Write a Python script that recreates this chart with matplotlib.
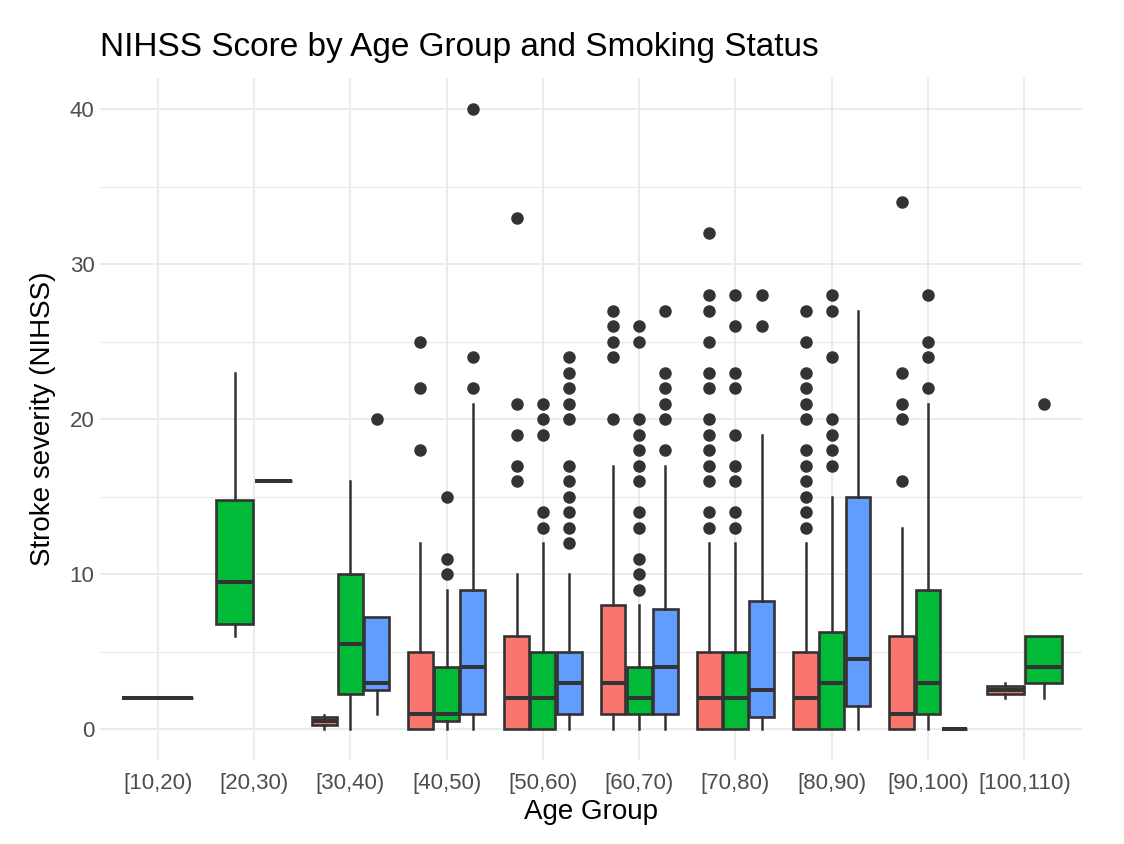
"""NIHSS score by age group and smoking status, grouped boxplots."""

import matplotlib.pyplot as plt

AGE_GROUPS = ["[10,20)", "[20,30)", "[30,40)", "[40,50)", "[50,60)",
              "[60,70)", "[70,80)", "[80,90)", "[90,100)", "[100,110)"]
COLORS = ["#F8766D", "#00BA38", "#619CFF"]

# (whisker low, q1, median, q3, whisker high) per age group, None = no data
RED_STATS = [(2, 2, 2, 2, 2), None, (0, 0.25, 0.5, 0.75, 0.9), (0, 0, 1, 5, 12),
             (0, 0, 2, 6, 10), (0, 1, 3, 8, 17), (0, 0, 2, 5, 12),
             (0, 0, 2, 5, 12), (0, 0, 1, 6, 13), (2, 2.25, 2.5, 2.75, 2.95)]
RED_FLIERS = [[], [], [], [25, 22, 18], [33, 21, 19, 17, 16],
              [27, 26, 25, 24, 20],
              [32, 28, 27, 25, 23, 22, 20, 19, 18, 17, 16, 14, 13],
              [27, 25, 23, 22, 21, 20, 18, 17, 16, 15, 14, 13],
              [34, 23, 21, 20, 16], []]

GREEN_STATS = [None, (6, 6.75, 9.5, 14.75, 23), (0, 2.25, 5.5, 10, 16),
               (0, 0.5, 1, 4, 9), (0, 0, 2, 5, 12), (0, 1, 2, 4, 8),
               (0, 0, 2, 5, 12), (0, 0, 3, 6.25, 15), (0, 1, 3, 9, 21),
               (2, 3, 4, 6, 6)]
GREEN_FLIERS = [[], [], [], [15, 11, 10], [21, 20, 19, 14, 13],
                [26, 25, 20, 19, 18, 17, 16, 14, 13, 11, 10, 9],
                [28, 26, 23, 22, 19, 17, 16, 14, 13],
                [28, 27, 24, 20, 19, 18, 17], [28, 25, 24, 22], [21]]

BLUE_STATS = [None, (16, 16, 16, 16, 16), (1, 2.5, 3, 7.25, 7.25),
              (0, 1, 4, 9, 21), (0, 1, 3, 5, 10), (0, 1, 4, 7.75, 17),
              (0, 0.75, 2.5, 8.25, 19), (0, 1.5, 4.5, 15, 27),
              (0, 0, 0, 0, 0), None]
BLUE_FLIERS = [[], [], [20], [40, 24, 22],
               [24, 23, 22, 21, 20, 17, 16, 15, 14, 13, 12],
               [27, 23, 22, 21, 20, 18], [28, 26], [], [], []]

ALL_STATS = [RED_STATS, GREEN_STATS, BLUE_STATS]
ALL_FLIERS = [RED_FLIERS, GREEN_FLIERS, BLUE_FLIERS]

plt.rcParams["font.family"] = ["Liberation Sans", "DejaVu Sans"]

# dodge spacing / box width depending on how many boxes share a category
SLOT = {1: 0.74, 2: 0.40, 3: 0.272}
BOX_W = {1: 0.74, 2: 0.385, 3: 0.258}
EDGE = "#333333"

fig = plt.figure(figsize=(11.24, 8.44), dpi=100)
ax = fig.add_axes([0.089, 0.0995, 0.8737, 0.808])

for i in range(len(AGE_GROUPS)):
    present = [s for s in range(3) if ALL_STATS[s][i] is not None]
    n = len(present)
    for k, s in enumerate(present):
        lo, q1, med, q3, hi = ALL_STATS[s][i]
        pos = i + 1 + (k - (n - 1) / 2) * SLOT[n]
        stats = [dict(whislo=lo, q1=q1, med=med, q3=q3, whishi=hi,
                      fliers=ALL_FLIERS[s][i])]
        ax.bxp(
            stats,
            positions=[pos],
            widths=[BOX_W[n]],
            patch_artist=True,
            showcaps=False,
            boxprops=dict(facecolor=COLORS[s], edgecolor=EDGE, linewidth=1.9),
            medianprops=dict(color=EDGE, linewidth=2.9, solid_capstyle="butt"),
            whiskerprops=dict(color=EDGE, linewidth=1.8),
            flierprops=dict(marker="o", markerfacecolor=EDGE,
                            markeredgecolor=EDGE, markersize=8),
            manage_ticks=False,
        )

ax.set_xlim(0.4, 10.6)
ax.set_ylim(-2, 42)
ax.set_xticks(range(1, len(AGE_GROUPS) + 1))
ax.set_xticklabels(AGE_GROUPS)
ax.set_yticks([0, 10, 20, 30, 40])
ax.set_yticks([5, 15, 25, 35], minor=True)

ax.set_axisbelow(True)
ax.grid(which="major", color="#EBEBEB", linewidth=1.4)
ax.grid(which="minor", axis="y", color="#EBEBEB", linewidth=0.9)
for sp in ax.spines.values():
    sp.set_visible(False)
ax.tick_params(which="both", length=0, labelsize=16, labelcolor="#4D4D4D", pad=4)
ax.tick_params(axis="x", pad=9)

ax.set_xlabel("Age Group", fontsize=20, labelpad=4)
ax.set_ylabel("Stroke severity (NIHSS)", fontsize=20, labelpad=10)
ax.set_title("NIHSS Score by Age Group and Smoking Status", fontsize=24,
             loc="left", pad=16)

fig.savefig("out.png", dpi=100)
